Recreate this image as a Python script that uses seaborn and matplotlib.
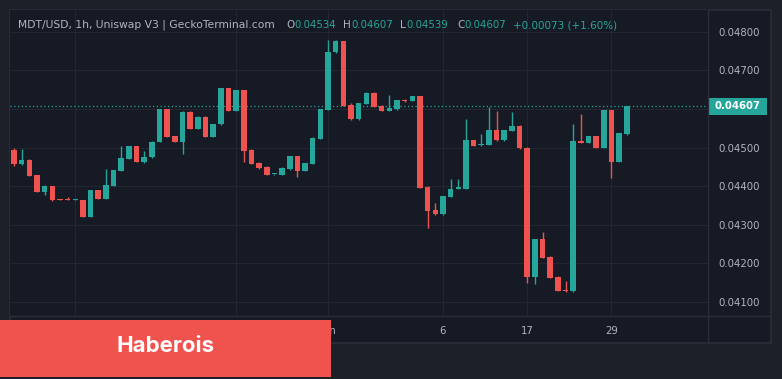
import matplotlib
matplotlib.use("Agg")
import matplotlib.pyplot as plt
from matplotlib.patches import Rectangle
import numpy as np
import pandas as pd
import seaborn as sns

# 1h candles
opens = [0.04494, 0.04457, 0.04468, 0.04429, 0.04386, 0.04400, 0.04366, 0.04365, 0.04364, 0.04364,
         0.04321, 0.04390, 0.04367, 0.04401, 0.04440, 0.04470, 0.04504, 0.04463, 0.04475, 0.04514,
         0.04600, 0.04530, 0.04515, 0.04593, 0.04548, 0.04580, 0.04528, 0.04560, 0.04653, 0.04595,
         0.04649, 0.04494, 0.04461, 0.04450, 0.04431, 0.04429, 0.04444, 0.04478, 0.04439, 0.04457,
         0.04522, 0.04597, 0.04747, 0.04776, 0.04610, 0.04573, 0.04613, 0.04642, 0.04608, 0.04595,
         0.04600, 0.04622, 0.04621, 0.04633, 0.04398, 0.04338, 0.04327, 0.04373, 0.04393, 0.04393,
         0.04519, 0.04506, 0.04507, 0.04545, 0.04519, 0.04544, 0.04556, 0.04500, 0.04165, 0.04263,
         0.04217, 0.04165, 0.04131, 0.04127, 0.04517, 0.04512, 0.04530, 0.04500, 0.04597, 0.04463,
         0.04534]
highs = [0.04500, 0.04495, 0.04470, 0.04430, 0.04402, 0.04401, 0.04367, 0.04373, 0.04366, 0.04365,
         0.04391, 0.04391, 0.04444, 0.04443, 0.04504, 0.04505, 0.04505, 0.04491, 0.04516, 0.04601,
         0.04601, 0.04531, 0.04594, 0.04594, 0.04581, 0.04581, 0.04562, 0.04654, 0.04654, 0.04650,
         0.04650, 0.04495, 0.04462, 0.04451, 0.04432, 0.04449, 0.04479, 0.04479, 0.04460, 0.04526,
         0.04601, 0.04778, 0.04778, 0.04777, 0.04616, 0.04616, 0.04643, 0.04643, 0.04609, 0.04636,
         0.04624, 0.04626, 0.04634, 0.04634, 0.04399, 0.04357, 0.04375, 0.04418, 0.04418, 0.04574,
         0.04520, 0.04535, 0.04606, 0.04595, 0.04546, 0.04591, 0.04557, 0.04501, 0.04264, 0.04280,
         0.04218, 0.04166, 0.04155, 0.04560, 0.04586, 0.04531, 0.04531, 0.04598, 0.04598, 0.04538,
         0.04608]
lows = [0.04452, 0.04455, 0.04425, 0.04384, 0.04377, 0.04362, 0.04363, 0.04363, 0.04363, 0.04320,
        0.04320, 0.04366, 0.04366, 0.04400, 0.04439, 0.04469, 0.04462, 0.04461, 0.04474, 0.04513,
        0.04527, 0.04514, 0.04483, 0.04547, 0.04547, 0.04527, 0.04527, 0.04559, 0.04594, 0.04594,
        0.04463, 0.04456, 0.04445, 0.04428, 0.04430, 0.04428, 0.04443, 0.04424, 0.04438, 0.04456,
        0.04521, 0.04596, 0.04746, 0.04607, 0.04572, 0.04572, 0.04612, 0.04605, 0.04594, 0.04594,
        0.04597, 0.04619, 0.04620, 0.04395, 0.04291, 0.04326, 0.04326, 0.04372, 0.04392, 0.04392,
        0.04503, 0.04505, 0.04506, 0.04518, 0.04518, 0.04543, 0.04497, 0.04150, 0.04147, 0.04214,
        0.04162, 0.04127, 0.04126, 0.04126, 0.04511, 0.04511, 0.04499, 0.04499, 0.04422, 0.04462,
        0.04533]
closes = [0.04457, 0.04468, 0.04427, 0.04386, 0.04400, 0.04364, 0.04364, 0.04364, 0.04365, 0.04321,
          0.04390, 0.04367, 0.04403, 0.04442, 0.04472, 0.04504, 0.04463, 0.04475, 0.04515, 0.04600,
          0.04528, 0.04515, 0.04593, 0.04548, 0.04580, 0.04528, 0.04561, 0.04653, 0.04595, 0.04649,
          0.04492, 0.04457, 0.04446, 0.04429, 0.04431, 0.04448, 0.04478, 0.04439, 0.04459, 0.04525,
          0.04600, 0.04748, 0.04776, 0.04608, 0.04573, 0.04615, 0.04642, 0.04606, 0.04595, 0.04602,
          0.04623, 0.04620, 0.04633, 0.04396, 0.04336, 0.04327, 0.04374, 0.04393, 0.04394, 0.04519,
          0.04504, 0.04507, 0.04545, 0.04519, 0.04545, 0.04556, 0.04498, 0.04165, 0.04263, 0.04215,
          0.04163, 0.04128, 0.04127, 0.04517, 0.04512, 0.04530, 0.04500, 0.04597, 0.04463, 0.04537,
          0.04607]

time_ticks = [8, 29, 41, 56, 67, 78]
time_labels = ["25", "30", "Jun", "6", "17", "29"]
price_ticks = [0.041, 0.042, 0.043, 0.044, 0.045, 0.046, 0.047, 0.048]
last_price = 0.04607

title = "MDT/USD, 1h, Uniswap V3 | GeckoTerminal.com"
ohlc_keys = ["O", "H", "L", "C"]
ohlc_vals = ["0.04534", "0.04607", "0.04539", "0.04607"]
change_text = "+0.00073 (+1.60%)"
banner_text = "Haberois"

TEAL = "#26a69a"
RED = "#ef5350"
PANEL = "#161a25"
OUTER = "#1e2029"
LINE = "#2a2e39"
GRID = "#222631"
TXT = "#b2b5be"

W, H = 782, 379

sns.set_theme(style="dark", rc={
    "axes.facecolor": PANEL,
    "figure.facecolor": OUTER,
    "grid.color": GRID,
})
plt.rcParams["font.family"] = ["DejaVu Sans"]

df = pd.DataFrame({"open": opens, "high": highs, "low": lows, "close": closes})
df["idx"] = np.arange(len(df))
up = df["close"] >= df["open"]
colors = np.where(up, TEAL, RED)

fig = plt.figure(figsize=(W / 100, H / 100), dpi=100)


def px(x, y):
    # pixel (from top-left) -> figure fraction
    return x / W, 1 - y / H


# panel background + border
fig.patches.append(Rectangle(px(10, 343), 761 / W, 333 / H, transform=fig.transFigure,
                             facecolor=PANEL, edgecolor=LINE, lw=1.2, zorder=-5))

left, top = px(10, 10)
right, bottom = px(708, 316)
ax = fig.add_axes([left, bottom, right - left, top - bottom])
ax.set_zorder(1)

body_lo = df[["open", "close"]].min(axis=1)
body_h = (df["close"] - df["open"]).abs().clip(lower=0.000035)
ax.vlines(df["idx"], df["low"], df["high"], colors=colors, lw=1, zorder=2)
ax.bar(df["idx"], body_h, bottom=body_lo, width=0.72, color=colors, lw=0, zorder=3)

ax.axhline(last_price, color=TEAL, lw=0.9, linestyle=(0, (1, 2)), zorder=1)

ax.set_xlim(-0.52, 90.6)
ax.set_ylim(0.040635, 0.048562)
ax.set_xticks(time_ticks)
ax.set_xticklabels(time_labels)
ax.set_yticks(price_ticks)
# the 0.04600 label sits under the last-price tag
ax.set_yticklabels(["" if abs(v - last_price) < 0.0002 else f"{v:.5f}" for v in price_ticks])
ax.yaxis.tick_right()
ax.tick_params(axis="y", length=0, pad=7.5, labelsize=7.3, labelcolor=TXT)
ax.tick_params(axis="x", length=0, pad=7.5, labelsize=7.3, labelcolor=TXT)
ax.grid(True, color=GRID, lw=0.8)
for s in ax.spines.values():
    s.set_visible(False)
ax.set_xlabel("")
ax.set_ylabel("")

# axis separators
fig.add_artist(plt.Line2D([708 / W, 708 / W], [px(0, 343)[1], px(0, 10)[1]],
                          transform=fig.transFigure, color=LINE, lw=1, zorder=2))
fig.add_artist(plt.Line2D([10 / W, 771 / W], [px(0, 316)[1]] * 2,
                          transform=fig.transFigure, color=LINE, lw=1, zorder=2))

# last price tag
tr = ax.get_yaxis_transform()
tag_h = 17 / 38600
ax.add_patch(Rectangle((1.0, last_price - tag_h / 2), 59 / 698, tag_h, transform=tr,
                       facecolor=TEAL, edgecolor="none", clip_on=False, zorder=5))
ax.text(1.0 + 29.5 / 698, last_price, f"{last_price:.5f}", transform=tr, ha="center",
        va="center", color="white", fontsize=7.3, fontweight="bold", zorder=6)

# header legend
hy = px(0, 25)[1]
fig.text(18 / W, hy, title, color=TXT, fontsize=7.75, va="center", zorder=4)
key_x = [286, 343, 400, 457]
for kx, k, v in zip(key_x, ohlc_keys, ohlc_vals):
    t = fig.text(kx / W, hy, k, color=TXT, fontsize=7.5, va="center", zorder=4)
    fig.add_artist(matplotlib.text.Annotation(
        v, xy=(1, 0.5), xycoords=t, xytext=(0.3, 0), textcoords="offset points",
        color=TEAL, fontsize=7.3, va="center", ha="left", annotation_clip=False, zorder=4))
fig.text(513 / W, hy, change_text, color=TEAL, fontsize=7.5, va="center", zorder=4)

# red banner
fig.patches.append(Rectangle(px(0, 377), 331 / W, 57 / H, transform=fig.transFigure,
                             facecolor="#f0534e", edgecolor="none", zorder=10))
fig.text(166 / W, px(0, 346)[1], banner_text, color="white", fontsize=16,
         fontweight="bold", family=["Inter", "DejaVu Sans"], ha="center", va="center", zorder=11)

fig.savefig("out.png", dpi=100, facecolor=OUTER)
